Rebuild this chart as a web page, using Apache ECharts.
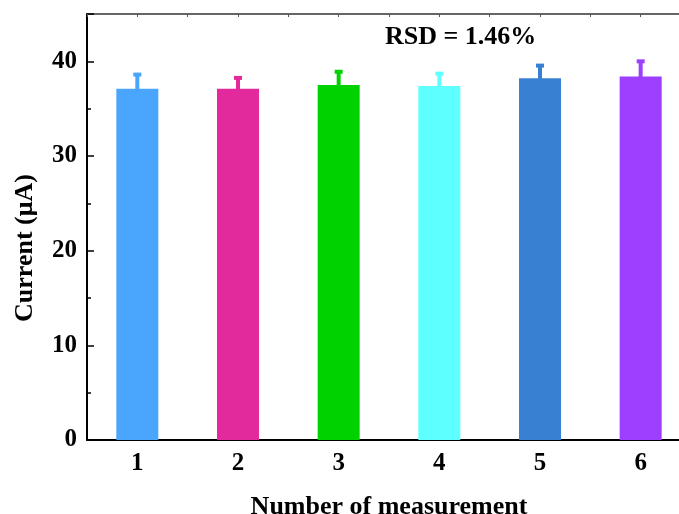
<!DOCTYPE html>
<html><head><meta charset="utf-8">
<script src="https://cdn.jsdelivr.net/npm/echarts@6/dist/echarts.min.js"></script>
<style>html,body{margin:0;padding:0;background:#fff}#c{width:679px;height:514px}</style>
</head><body><div id="c"></div>
<script>
const categories = ['1','2','3','4','5','6'];
const currents = [37.1, 37.1, 37.5, 37.4, 38.2, 38.4];
const errors = [1.5, 1.15, 1.4, 1.3, 1.35, 1.6];
const colors = ['#4aa5fd','#e22a9c','#00d200','#5effff','#3780d2','#9c3fff'];
const yTicks = [0, 10, 20, 30, 40];
const annotation = 'RSD = 1.46%';
const yTitle = 'Current (μA)';
const xTitle = 'Number of measurement';

const font = '"Liberation Serif","Times New Roman",serif';
const chart = echarts.init(document.getElementById('c'));
chart.setOption({
  animation: false,
  grid: {left: 87, top: 14, width: 604, height: 426, outerBoundsMode: 'none', containLabel: false},
  xAxis: [{
    type: 'category', data: categories, position: 'bottom',
    axisLine: {lineStyle: {color: '#000', width: 2}},
    axisTick: {show: false},
    axisLabel: {color: '#000', fontFamily: font, fontWeight: 'bold', fontSize: 25, margin: 11},
    name: xTitle, nameLocation: 'middle', nameGap: 54,
    nameTextStyle: {color: '#000', fontFamily: font, fontWeight: 'bold', fontSize: 26}
  }, {
    type: 'value', position: 'top', min: 0, max: 12, interval: 1,
    axisLine: {show: true, lineStyle: {color: '#333', width: 1.5}},
    axisTick: {show: true, inside: true, length: 3, lineStyle: {color: '#555'}},
    axisLabel: {show: false}, splitLine: {show: false}
  }],
  yAxis: {
    type: 'value', min: 0, max: 45, interval: 10,
    axisLine: {show: true, lineStyle: {color: '#000', width: 2}},
    axisTick: {show: true, inside: true, length: 7, lineStyle: {color: '#000', width: 1.5}},
    minorTick: {show: true, splitNumber: 2, length: 4, lineStyle: {color: '#000', width: 1.5}},
    splitLine: {show: false},
    axisLabel: {color: '#000', fontFamily: font, fontWeight: 'bold', fontSize: 25, margin: 10,
      formatter: v => yTicks.indexOf(v) >= 0 ? String(v) : ''}
  },
  series: [{
    type: 'bar', barWidth: 42,
    data: currents.map((v, i) => ({value: v, itemStyle: {color: colors[i]}})),
    z: 2
  }, {
    type: 'custom', z: 3,
    data: currents.map((v, i) => [i, v - errors[i], v + errors[i]]),
    renderItem: function (params, api) {
      const i = api.value(0);
      const lo = api.coord([i, api.value(1)]);
      const hi = api.coord([i, api.value(2)]);
      const c = colors[i];
      return {type: 'group', children: [
        {type: 'rect', shape: {x: hi[0] - 2, y: hi[1], width: 4, height: lo[1] - hi[1]}, style: {fill: c}},
        {type: 'rect', shape: {x: hi[0] - 4, y: hi[1] - 2, width: 8, height: 4}, style: {fill: c}},
        {type: 'rect', shape: {x: lo[0] - 4, y: lo[1] - 2, width: 8, height: 4}, style: {fill: c}}
      ]};
    }
  }],
  graphic: [{
    type: 'text', left: 385, top: 24,
    style: {text: annotation, fill: '#000', font: 'bold 26px ' + font}
  }, {
    type: 'text', x: 25, y: 248, rotation: Math.PI / 2,
    style: {text: yTitle, fill: '#000', font: 'bold 26px ' + font, align: 'center', verticalAlign: 'middle'}
  }]
});
</script></body></html>
